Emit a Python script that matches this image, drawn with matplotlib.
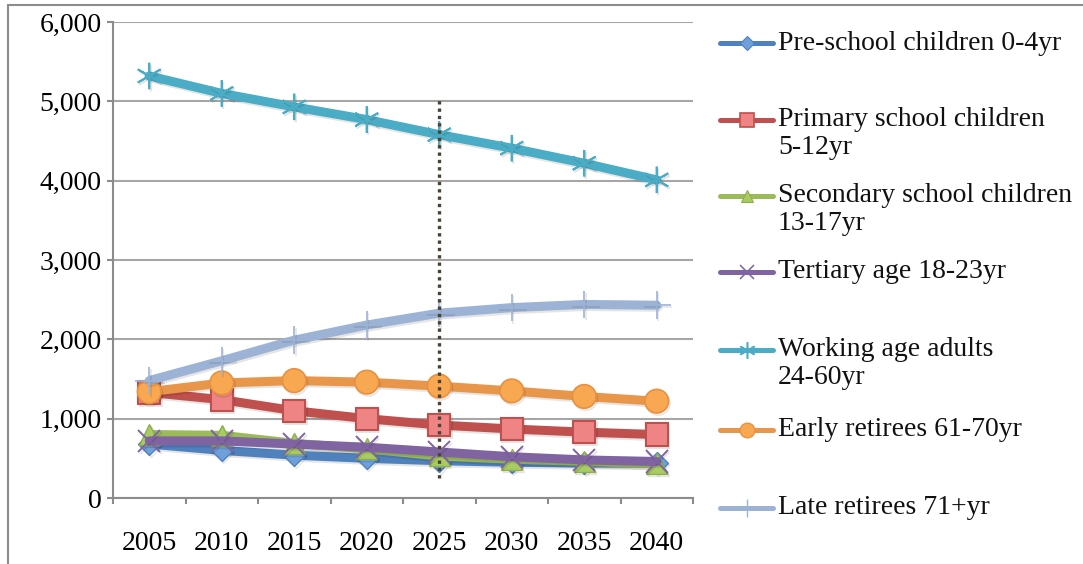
import numpy as np
import matplotlib
matplotlib.use("Agg")
import matplotlib.pyplot as plt
import matplotlib.patheffects as pe
from matplotlib.patches import Rectangle

# === DATA ===
years = [2005, 2010, 2015, 2020, 2025, 2030, 2035, 2040]
pre_school = [680, 600, 540, 500, 470, 450, 440, 440]
primary = [1330, 1240, 1100, 1000, 920, 870, 830, 800]
secondary = [800, 790, 690, 620, 530, 490, 460, 430]
tertiary = [720, 720, 680, 640, 580, 520, 480, 460]
working = [5320, 5100, 4930, 4770, 4580, 4410, 4220, 4010]
early_ret = [1340, 1450, 1480, 1460, 1410, 1350, 1280, 1220]
late_ret = [1480, 1730, 1990, 2180, 2330, 2400, 2440, 2430]
marker_year = 2025
marker_span = [250, 5060]

labels = ["Pre-school children 0-4yr",
          "Primary school children\n5-12yr",
          "Secondary school children\n13-17yr",
          "Tertiary age 18-23yr",
          "Working age adults\n24-60yr",
          "Early retirees 61-70yr",
          "Late retirees 71+yr"]
series = [pre_school, primary, secondary, tertiary, working, early_ret, late_ret]

# === STYLES ===
styles = [
    dict(color="#4F81BD", marker="D", ms=11, mfc="#6FA0DA", mec="#4F81BD", mew=1.0),
    dict(color="#C0504D", marker="s", ms=16, mfc="#EE8584", mec="#C0504D", mew=1.5),
    dict(color="#9BBB59", marker="^", ms=15, mfc="#A8CC62", mec="#8FAE4E", mew=1.0),
    dict(color="#8064A2", marker="x", ms=16, mfc="#8064A2", mec="#8064A2", mew=1.4),
    dict(color="#4BACC6", marker=(6, 2, 0), ms=19, mfc="#4BACC6", mec="#4BACC6", mew=1.4),
    dict(color="#E8964A", marker="o", ms=17, mfc="#F9A852", mec="#E8903F", mew=1.2),
    dict(color="#9DB3D6", marker="+", ms=20, mfc="#9DB3D6", mec="#9DB3D6", mew=1.2),
]

plt.rcParams["font.family"] = ["Liberation Serif", "DejaVu Serif"]
FS = 20

W, H = 1083, 564
fig = plt.figure(figsize=(W / 100, H / 100), dpi=100)

# outer chart frame
fig.patches.append(Rectangle((8 / W, -0.1), 1.2, 1 - 5 / H + 0.1, transform=fig.transFigure,
                             fill=False, edgecolor="#8c8c8c", linewidth=1.5))

ax = fig.add_axes([113 / W, 1 - 498 / H, (693 - 113) / W, (498 - 22) / H])

shadow = [pe.SimpleLineShadow(offset=(1, -1.5), alpha=0.1, shadow_color="black"), pe.Normal()]

for vals, st in zip(series, styles):
    ax.plot(years, vals, linewidth=6.5, solid_capstyle="round", solid_joinstyle="round",
            color=st["color"], marker=st["marker"], markersize=st["ms"],
            markerfacecolor=st["mfc"], markeredgecolor=st["mec"], markeredgewidth=st["mew"],
            path_effects=shadow, clip_on=False)

ax.vlines(marker_year, marker_span[0], marker_span[1], colors="#4a4236",
          linestyles=(0, (1, 1.2)), linewidth=2.4, zorder=10)

ax.set_xlim(2002.5, 2042.5)
ax.set_ylim(0, 6000)
ax.set_yticks(np.arange(0, 6001, 1000))
ax.set_yticklabels([f"{v:,}" for v in range(0, 6001, 1000)])
ax.set_xticks(years)
ax.set_xticklabels([str(y) for y in years])
ax.set_xticks(np.arange(2002.5, 2043, 5), minor=True)
ax.tick_params(axis="x", which="major", length=0, pad=24, labelsize=FS)
ax.tick_params(axis="x", which="minor", length=4.5, width=1.5, color="#8c8c8c", direction="out")
ax.tick_params(axis="y", length=4.5, width=1.5, color="#8c8c8c", direction="out", pad=3.5, labelsize=FS)

ax.grid(axis="y", color="#a6a6a6", linewidth=1.5)
ax.set_axisbelow(True)
for s in ["top", "right"]:
    ax.spines[s].set_visible(False)
for s in ["left", "bottom"]:
    ax.spines[s].set_color("#8c8c8c")
    ax.spines[s].set_linewidth(1.5)

# === LEGEND (manual, handle aligned with first text line) ===
lax = fig.add_axes([715 / W, 0, (W - 715) / W, 1])
lax.set_xlim(0, W - 715)
lax.set_ylim(H, 0)
lax.axis("off")
slot_y = [43, 120, 196, 272, 350, 430, 508]
for lbl, st, y in zip(labels, styles, slot_y):
    lax.plot([5, 58], [y, y], color=st["color"], linewidth=3.6, solid_capstyle="round")
    lax.plot([31.5], [y], linestyle="none", marker=st["marker"], markersize=st["ms"] * 0.62,
             markerfacecolor=st["mfc"], markeredgecolor=st["mec"], markeredgewidth=st["mew"] * 0.8)
    for j, line in enumerate(lbl.split("\n")):
        lax.text(63, y + j * 28, line, fontsize=FS, va="center", ha="left", color="#111111")

fig.savefig("out.png", dpi=100)
